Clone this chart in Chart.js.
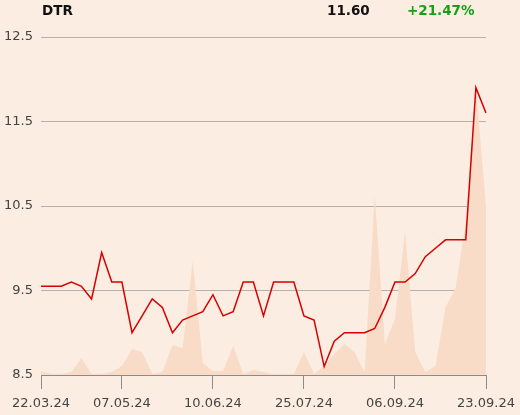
<!DOCTYPE html>
<html>
<head>
<meta charset="utf-8">
<script src="https://cdn.jsdelivr.net/npm/chart.js@4/dist/chart.umd.min.js"></script>
<style>
  body { margin: 0; background: #fbede1; }
  #wrap { position: relative; width: 520px; height: 415px; }
  .hd { position: absolute; top: 2px; font: bold 13.5px "DejaVu Sans", sans-serif; color: #111; }
</style>
</head>
<body>
<div id="wrap">
  <canvas id="myChart" width="520" height="415"></canvas>
  <span class="hd" style="left:42px">DTR</span>
  <span class="hd" style="left:327px">11.60</span>
  <span class="hd" style="left:407px;color:#17a017">+21.47%</span>
</div>
<script>
//data
const price = [9.55, 9.55, 9.55, 9.6, 9.55, 9.4, 9.95, 9.6, 9.6, 9.0,
  9.2, 9.4, 9.3, 9.0, 9.15, 9.2, 9.25, 9.45, 9.2, 9.25,
  9.6, 9.6, 9.2, 9.6, 9.6, 9.6, 9.2, 9.15, 8.6, 8.9,
  9.0, 9.0, 9.0, 9.05, 9.3, 9.6, 9.6, 9.7, 9.9, 10.0,
  10.1, 10.1, 10.1, 11.9, 11.6];
const volume = [4, 1, 1, 3, 17, 1, 1, 3, 9, 26,
  23, 1, 3, 30, 27, 114, 12, 4, 4, 29,
  1, 5, 3, 1, 1, 1, 23, 1, 9, 21,
  31, 23, 3, 180, 31, 56, 143, 23, 3, 9,
  68, 87, 153, 288, 168];
const tickLabels = ["22.03.24", "07.05.24", "10.06.24", "25.07.24", "06.09.24", "23.09.24"];
const tickIdx = [0, 8, 17, 26, 35, 44];

const labels = price.map((p, i) => i);

const data = {
  labels: labels,
  datasets: [
    {
      label: "DTR",
      data: price,
      borderColor: "#d60000",
      borderWidth: 1.5,
      pointRadius: 0,
      tension: 0,
      yAxisID: "y",
    },
    {
      label: "Volume",
      data: volume,
      borderWidth: 0,
      backgroundColor: "#f8dcc7",
      fill: "start",
      pointRadius: 0,
      tension: 0,
      yAxisID: "y1",
    },
  ],
};

const config = {
  type: "line",
  data: data,
  options: {
    responsive: false,
    animation: false,
    layout: { padding: { top: 37, right: 34, left: 0, bottom: 0 } },
    plugins: { legend: { display: false }, tooltip: { enabled: false } },
    scales: {
      x: {
        offset: false,
        border: { display: true, color: "#8c8c8c", width: 1 },
        grid: { drawOnChartArea: false, drawTicks: true, tickLength: 14, color: "#8c8c8c" },
        ticks: {
          autoSkip: false,
          maxRotation: 0,
          padding: 7,
          color: "#444",
          font: { family: "DejaVu Sans", size: 13 },
          callback: function (v, i) {
            const k = tickIdx.indexOf(i);
            return k >= 0 ? tickLabels[k] : null;
          },
        },
        afterFit: function (s) {
          s.height = 40;
          s.paddingLeft = 0;
          s.paddingRight = 0;
        },
      },
      y: {
        min: 8.5,
        max: 12.5,
        border: { display: false },
        grid: { color: "#b5b0aa", drawTicks: false },
        ticks: {
          stepSize: 1,
          padding: 8,
          color: "#444",
          font: { family: "DejaVu Sans", size: 13 },
          callback: (v) => v.toFixed(1),
        },
        afterFit: function (s) { s.width = 41; },
      },
      y1: {
        display: false,
        min: 0,
        max: 338,
      },
    },
  },
};

const myChart = new Chart(document.getElementById("myChart"), config);
</script>
</body>
</html>
